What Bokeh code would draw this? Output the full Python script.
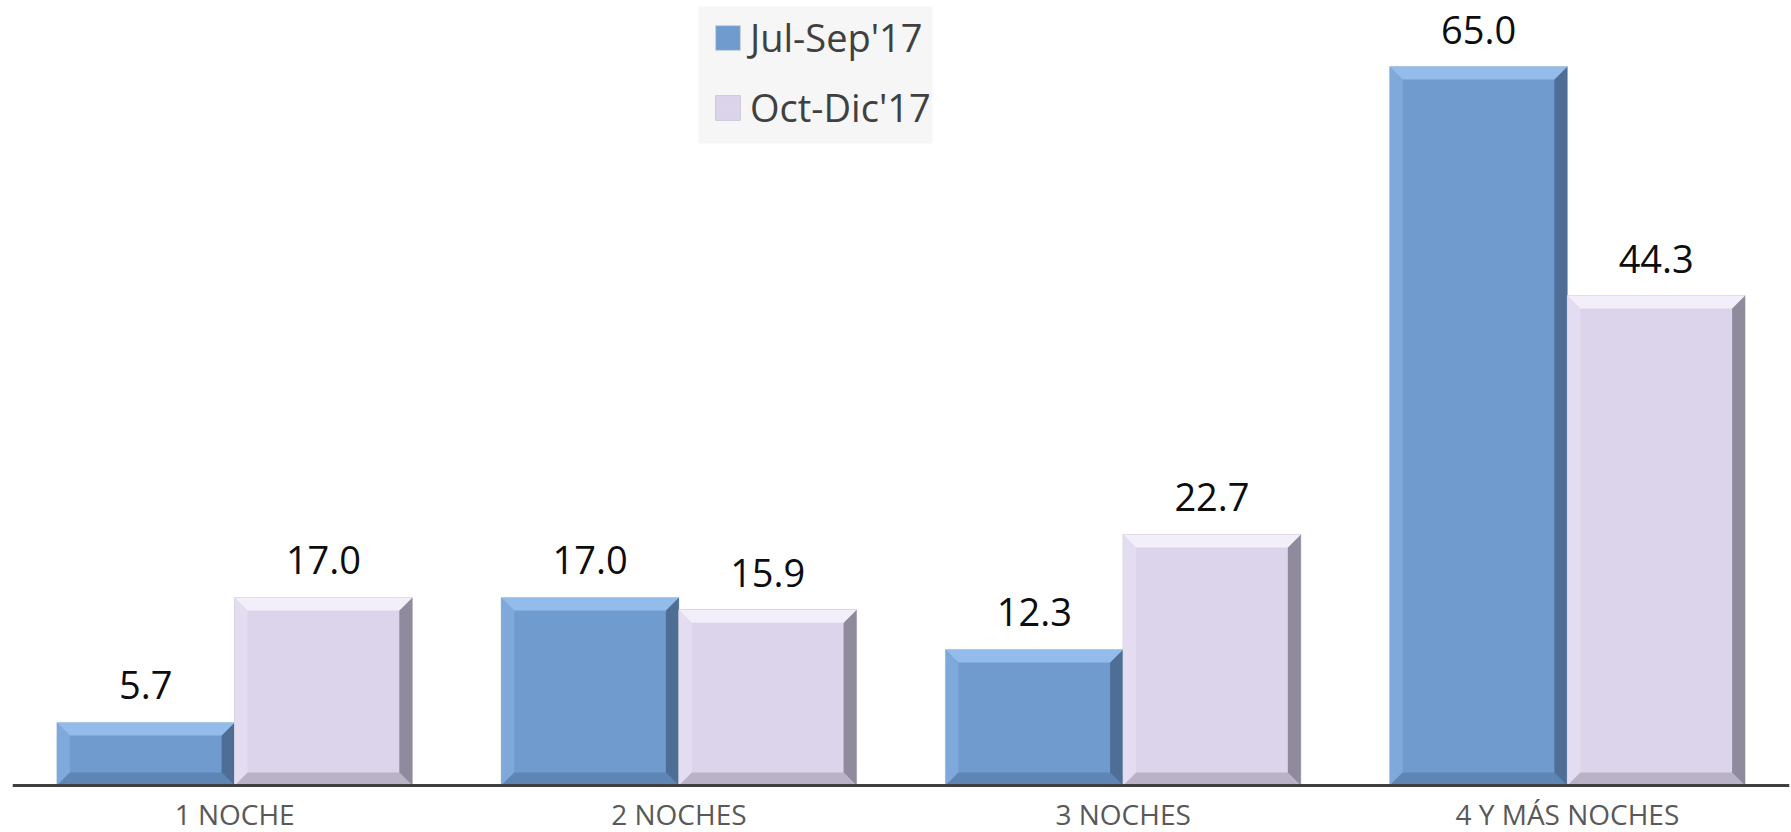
from bokeh.plotting import figure
from bokeh.models import Range1d, FixedTicker, Legend, LegendItem, ColumnDataSource, BoxAnnotation
from bokeh.embed import file_html
from bokeh.resources import INLINE

categories = ["1 NOCHE", "2 NOCHES", "3 NOCHES", "4 Y MÁS NOCHES"]
series_names = ["Jul-Sep'17", "Oct-Dic'17"]
jul_sep = [5.7, 17.0, 12.3, 65.0]
oct_dic = [17.0, 15.9, 22.7, 44.3]
series_values = [jul_sep, oct_dic]

FONT = "Open Sans"
W, H = 1791, 832
ML, MR = 12, 2
ZERO_PX = 785          # screen row of the zero line
PX_PER_UNIT = 11.06
frame_w = W - ML - MR
px_x = frame_w / len(categories)
y_start = -(H - ZERO_PX) / PX_PER_UNIT
y_end = ZERO_PX / PX_PER_UNIT
BEV = 13
bx = BEV / px_x
by = BEV / PX_PER_UNIT

styles = [
    dict(fill="#6f9bcf", top="#93bcea", left="#7fa9da", right="#4e6e96", bottom="#5e85b3", edge="#c9d3de"),
    dict(fill="#dbd4ea", top="#f3effa", left="#e4ddf1", right="#908b9c", bottom="#bab3c7", edge="#cfcbd6"),
]

p = figure(width=W, height=H, output_backend="svg", toolbar_location=None,
           x_range=Range1d(0, len(categories)), y_range=Range1d(y_start, y_end),
           min_border_left=ML, min_border_right=MR, min_border_top=0, min_border_bottom=0)
p.outline_line_color = None
p.xgrid.visible = False
p.ygrid.visible = False
p.yaxis.visible = False
p.background_fill_color = "white"
p.border_fill_color = "white"

# legend background panel (screen units: from frame's left, from frame's bottom)
p.add_layout(BoxAnnotation(left=686, right=920, top=826, bottom=689,
                           left_units="screen", right_units="screen",
                           top_units="screen", bottom_units="screen",
                           fill_color="#f6f6f6", fill_alpha=1.0, line_color=None,
                           level="underlay"))

legend_items = []
bar_w = 0.4
for s, vals in enumerate(series_values):
    st = styles[s]
    lefts = [i + 0.1 + bar_w * s for i in range(len(categories))]
    rights = [l + bar_w for l in lefts]
    centers = [l + bar_w / 2 for l in lefts]
    src = ColumnDataSource(dict(x=centers, top=vals, label=[f"{v:.1f}" for v in vals]))
    r = p.vbar(x="x", top="top", bottom=0, width=bar_w, source=src,
               fill_color=st["fill"], line_color=st["edge"], line_width=1)
    legend_items.append(LegendItem(label=series_names[s], renderers=[r]))
    tops_xs, tops_ys, rt_xs, rt_ys, bt_xs, bt_ys, lf_xs, lf_ys = ([] for _ in range(8))
    for l, rr, t in zip(lefts, rights, vals):
        tops_xs.append([l, rr, rr - bx, l + bx]); tops_ys.append([t, t, t - by, t - by])
        rt_xs.append([rr, rr, rr - bx, rr - bx]); rt_ys.append([t, 0, by, t - by])
        bt_xs.append([l, rr, rr - bx, l + bx]); bt_ys.append([0, 0, by, by])
        lf_xs.append([l, l, l + bx, l + bx]); lf_ys.append([0, t, t - by, by])
    p.patches(lf_xs, lf_ys, fill_color=st["left"], line_color=None)
    p.patches(bt_xs, bt_ys, fill_color=st["bottom"], line_color=None)
    p.patches(rt_xs, rt_ys, fill_color=st["right"], line_color=None)
    p.patches(tops_xs, tops_ys, fill_color=st["top"], line_color=None)
    p.text(x="x", y="top", text="label", source=src, text_align="center",
           text_baseline="middle", y_offset=-37, text_font_size="38px",
           text_color="#0d0d0d", text_font={"value": FONT})

legend = Legend(items=legend_items, location=(700, 699), orientation="vertical",
                label_text_font=FONT, label_text_font_size="38px", label_text_color="#404040",
                glyph_width=31, glyph_height=31, label_standoff=7, padding=25,
                spacing=18, margin=0, background_fill_alpha=0.0,
                border_line_color=None)
p.add_layout(legend, "center")

p.xaxis.fixed_location = 0
p.xaxis.ticker = FixedTicker(ticks=[i + 0.5 for i in range(len(categories))])
p.xaxis.major_label_overrides = {i + 0.5: c for i, c in enumerate(categories)}
p.xaxis.axis_line_color = "#404040"
p.xaxis.axis_line_width = 3
p.xaxis.major_tick_out = 0
p.xaxis.major_tick_in = 0
p.xaxis.minor_tick_out = 0
p.xaxis.minor_tick_in = 0
p.xaxis.major_label_standoff = 9
p.xaxis.major_label_text_font = FONT
p.xaxis.major_label_text_font_size = "28px"
p.xaxis.major_label_text_color = "#595959"

open("out.html", "w").write(file_html(p, INLINE))
